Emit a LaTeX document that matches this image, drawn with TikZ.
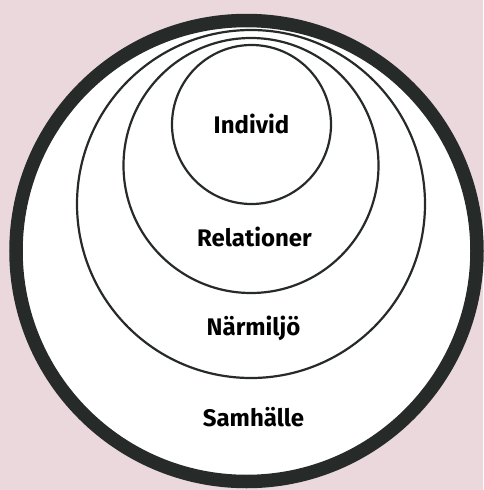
\documentclass[tikz,border=0pt]{standalone}
\usepackage{fontspec}
\setmainfont{Fira Sans}
\definecolor{bgpink}{HTML}{EAD8DD}
\definecolor{ink}{HTML}{262A28}
\begin{document}
\begin{tikzpicture}[x=1pt,y=-1pt,
  ring/.style={draw=ink,line width=2.2pt,fill=white},
  lbl/.style={font=\fontsize{24}{28}\selectfont\bfseries,anchor=base,text=black,inner sep=0pt}]
\useasboundingbox (0,0) rectangle (483,490);
\fill[bgpink] (0,0) rectangle (483,490);
\draw[draw=ink,line width=13.5pt,fill=white] (246.5,251) circle[radius=230.5];
\draw[ring] (251,204) circle[radius=174];
\draw[ring] (251,165.5) circle[radius=127.5];
\draw[ring] (251.5,124.5) circle[radius=79.5];
\node[lbl] (individ) at (251.5,133) {Individ};
\node[lbl] (relationer) at (254.5,246) {Relationer};
\node[lbl] (narmiljo) at (253.5,335.5) {Närmiljö};
\node[lbl] (samhalle) at (253.5,426.5) {Samhälle};
\end{tikzpicture}
\end{document}
